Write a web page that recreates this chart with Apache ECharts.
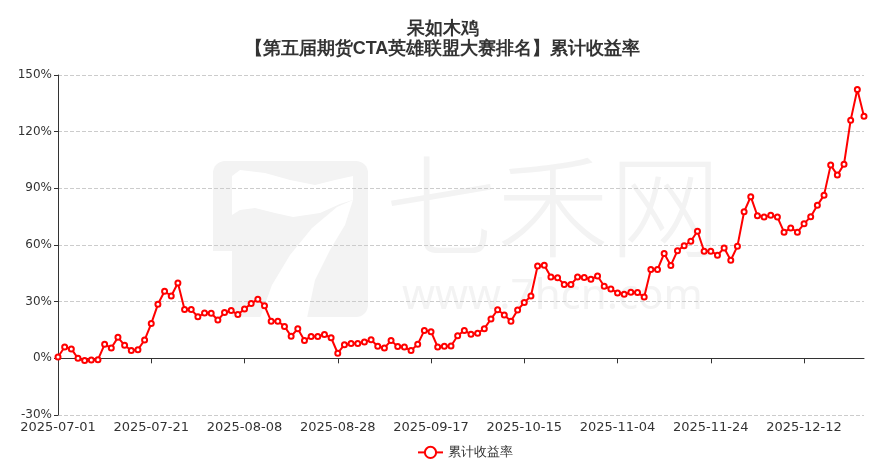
<!DOCTYPE html>
<html>
<head>
<meta charset="utf-8">
<script src="https://cdn.jsdelivr.net/npm/echarts@6/dist/echarts.min.js"></script>
<style>
  html, body { margin: 0; padding: 0; background: #fff; }
  #lineChartBox { width: 885px; height: 473px; }
</style>
</head>
<body>
<div id="lineChartBox"></div>
<script>
// 标题
const titleText = '呆如木鸡\n【第五届期货CTA英雄联盟大赛排名】累计收益率'
const seriesName = '累计收益率'

// 交易日
const xAxisData = [
  '2025-07-01', '2025-07-02', '2025-07-03', '2025-07-04', '2025-07-07', '2025-07-08', '2025-07-09', '2025-07-10',
  '2025-07-11', '2025-07-14', '2025-07-15', '2025-07-16', '2025-07-17', '2025-07-18', '2025-07-21', '2025-07-22',
  '2025-07-23', '2025-07-24', '2025-07-25', '2025-07-28', '2025-07-29', '2025-07-30', '2025-07-31',
  '2025-08-01', '2025-08-04', '2025-08-05', '2025-08-06', '2025-08-07', '2025-08-08', '2025-08-11', '2025-08-12',
  '2025-08-13', '2025-08-14', '2025-08-15', '2025-08-18', '2025-08-19', '2025-08-20', '2025-08-21', '2025-08-22',
  '2025-08-25', '2025-08-26', '2025-08-27', '2025-08-28', '2025-08-29',
  '2025-09-01', '2025-09-02', '2025-09-03', '2025-09-04', '2025-09-05', '2025-09-08', '2025-09-09', '2025-09-10',
  '2025-09-11', '2025-09-12', '2025-09-15', '2025-09-16', '2025-09-17', '2025-09-18', '2025-09-19', '2025-09-22',
  '2025-09-23', '2025-09-24', '2025-09-25', '2025-09-26', '2025-09-29', '2025-09-30',
  '2025-10-09', '2025-10-10', '2025-10-13', '2025-10-14', '2025-10-15', '2025-10-16', '2025-10-17', '2025-10-20',
  '2025-10-21', '2025-10-22', '2025-10-23', '2025-10-24', '2025-10-27', '2025-10-28', '2025-10-29', '2025-10-30',
  '2025-10-31',
  '2025-11-03', '2025-11-04', '2025-11-05', '2025-11-06', '2025-11-07', '2025-11-10', '2025-11-11', '2025-11-12',
  '2025-11-13', '2025-11-14', '2025-11-17', '2025-11-18', '2025-11-19', '2025-11-20', '2025-11-21', '2025-11-24',
  '2025-11-25', '2025-11-26', '2025-11-27', '2025-11-28',
  '2025-12-01', '2025-12-02', '2025-12-03', '2025-12-04', '2025-12-05', '2025-12-08', '2025-12-09', '2025-12-10',
  '2025-12-11', '2025-12-12', '2025-12-15', '2025-12-16', '2025-12-17', '2025-12-18', '2025-12-19', '2025-12-22',
  '2025-12-23', '2025-12-24', '2025-12-25'
]

// 累计收益率 (%)
const returnData = [
  0.7, 6, 5, 0, -1.2, -0.9, -0.7, 7.4, 5.5, 11.1, 6.9, 4.1, 4.6, 9.7, 18.4, 28.6,
  35.5, 33, 39.9, 25.8, 25.8, 22, 24,
  23.9, 20.3, 24.2, 25.3, 23.2, 26.1, 29, 31.3, 27.9, 19.6, 19.6, 16.9, 11.7, 15.6,
  9.5, 11.6, 11.6, 12.6, 10.9, 2.7, 7.2,
  7.9, 7.9, 8.6, 9.8, 6.4, 5.5, 9.4, 6.2, 6, 4.1, 7.4, 14.8, 14.1, 6, 6.4, 6.5,
  12, 14.8, 12.7, 13.3, 15.7, 20.8,
  25.7, 22.9, 19.6, 25.6, 29.5, 33, 48.9, 49.3, 43.1, 42.6, 39.1, 39.1, 43, 42.8,
  41.9, 43.6, 38.2,
  36.7, 34.6, 33.9, 35, 34.8, 32.5, 47, 47, 55.5, 49.2, 57, 59.6, 62, 67.3,
  56.7, 56.7, 54.6, 58.4, 51.9, 59.4,
  77.6, 85.6, 75.5, 74.8, 75.7, 74.8, 66.8, 69, 66.8, 71.2, 75, 81, 86.4, 102.3,
  97, 102.8, 126.1, 142.3, 128.1
]

// y轴
const yMin = -30
const yMax = 150
const yInterval = 30
const labelEvery = 13

const wmColor = '#f3f3f3'

const myChart = echarts.init(document.getElementById('lineChartBox'))
myChart.setOption({
  animation: false,
  backgroundColor: '#fff',
  title: {
    text: titleText,
    left: 'center',
    top: 14,
    textStyle: {
      fontFamily: 'sans-serif',
      fontSize: 18,
      fontWeight: 'bold',
      lineHeight: 20,
      color: '#333'
    }
  },
  // 水印
  graphic: [
    {
      type: 'group',
      z: -10,
      silent: true,
      children: [
        {
          type: 'rect',
          shape: { x: 213, y: 161, width: 155, height: 156, r: 12 },
          style: { fill: wmColor }
        },
        { type: 'rect', shape: { x: 212, y: 251, width: 20, height: 67 }, style: { fill: '#fff' } },
        {
          type: 'polygon',
          shape: {
            points: [[232, 176], [240, 170], [265, 173], [290, 180], [315, 185], [335, 180], [353, 176],
              [353, 200], [340, 204], [320, 213], [293, 217], [275, 213], [255, 208], [240, 210], [232, 215]]
          },
          style: { fill: '#fff' }
        },
        {
          type: 'polygon',
          shape: {
            points: [[337, 207], [353, 200], [345, 225], [330, 250], [315, 280], [307, 318],
              [260, 318], [272, 285], [290, 255], [312, 228]]
          },
          style: { fill: '#fff' }
        },
        {
          type: 'text',
          x: 385,
          y: 150,
          style: {
            text: '七禾网',
            fontSize: 112,
            fontFamily: 'Noto Sans CJK SC',
            fontWeight: 300,
            fill: wmColor
          }
        },
        {
          type: 'text',
          x: 402,
          y: 276,
          style: {
            text: 'www.7hcn.com',
            fontSize: 42,
            fontFamily: 'Noto Sans',
            fill: wmColor
          }
        }
      ]
    }
  ],
  legend: {
    bottom: 9,
    left: 412,
    itemWidth: 25,
    itemHeight: 14,
    itemGap: 10,
    textStyle: { fontSize: 13, color: '#333', fontFamily: 'sans-serif' },
    data: [seriesName]
  },
  grid: {
    left: 58,
    right: 21,
    top: 75,
    bottom: 58
  },
  xAxis: [
    {
      type: 'category',
      boundaryGap: false,
      data: xAxisData,
      axisLine: { onZero: true, lineStyle: { color: '#333', width: 1 } },
      axisTick: { show: true, interval: labelEvery, length: 5 },
      axisLabel: { show: false },
      splitLine: { show: false }
    },
    {
      type: 'category',
      position: 'bottom',
      boundaryGap: false,
      data: xAxisData,
      axisLine: { show: false, onZero: false },
      axisTick: { show: false },
      axisLabel: {
        interval: labelEvery,
        color: '#333',
        fontSize: 13,
        margin: 6,
        fontFamily: 'DejaVu Sans'
      },
      splitLine: { show: false }
    }
  ],
  yAxis: [
    {
      type: 'value',
      min: yMin,
      max: yMax,
      interval: yInterval,
      axisLine: { show: true, lineStyle: { color: '#333' } },
      axisTick: { show: true, length: 4 },
      axisLabel: {
        formatter: '{value}%',
        color: '#333',
        fontSize: 12,
        margin: 6,
        fontFamily: 'DejaVu Sans'
      },
      splitLine: { lineStyle: { type: 'dashed', color: '#ccc' } }
    }
  ],
  series: [
    {
      name: seriesName,
      type: 'line',
      xAxisIndex: 0,
      data: returnData,
      symbol: 'emptyCircle',
      symbolSize: 5,
      showAllSymbol: true,
      lineStyle: { color: '#ff0000', width: 2 },
      itemStyle: { color: '#ff0000', borderWidth: 1 }
    }
  ]
})
window.addEventListener('resize', () => {
  myChart.resize()
})
</script>
</body>
</html>
